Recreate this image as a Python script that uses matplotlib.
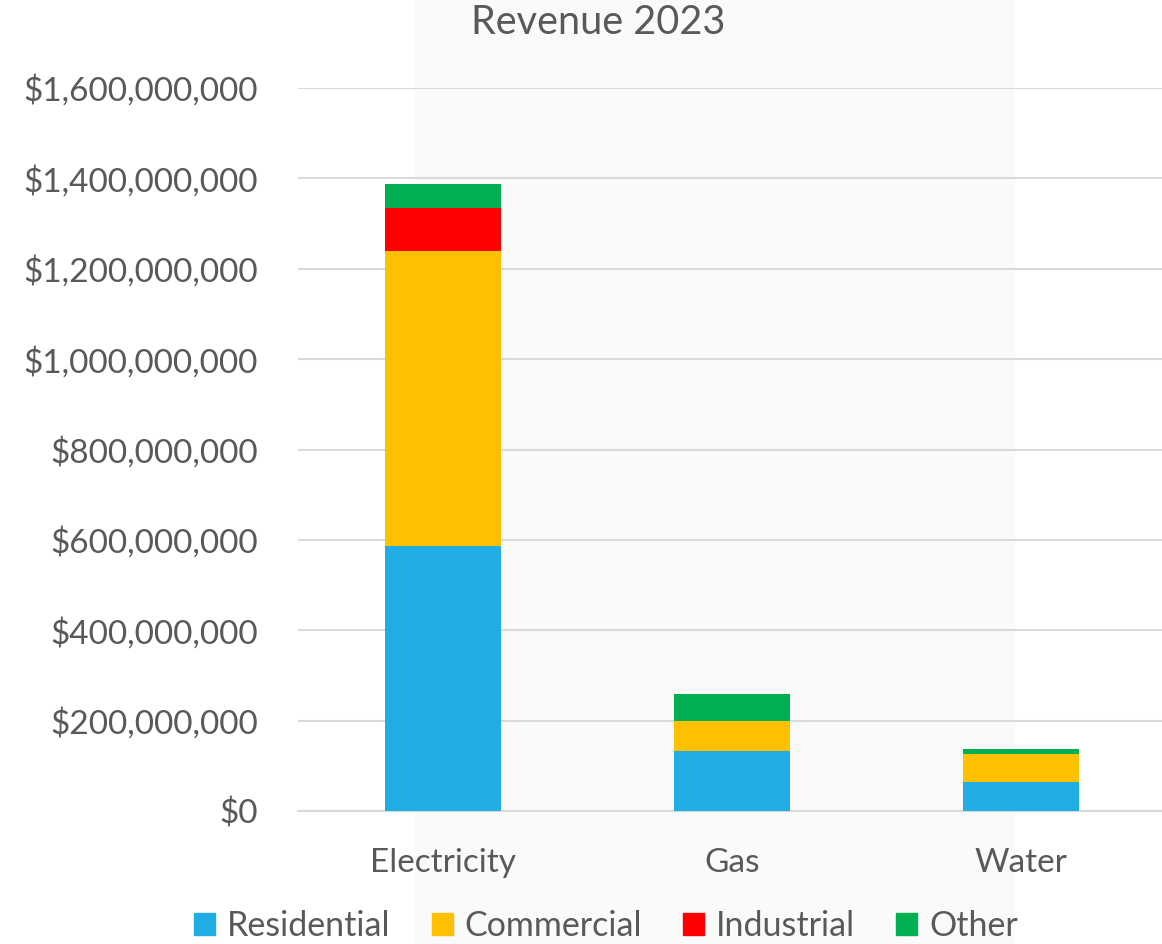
import matplotlib.pyplot as plt
import matplotlib.patches as mpatches
from matplotlib.ticker import FuncFormatter
import numpy as np

plt.rcParams['font.family'] = ['Lato', 'DejaVu Sans']

utilities = ["Electricity", "Gas", "Water"]
segments = ["Residential", "Commercial", "Industrial", "Other"]
residential = [587e6, 132e6, 65e6]
commercial = [653e6, 67e6, 62e6]
industrial = [95e6, 0, 0]
other = [52e6, 60e6, 11e6]
colors = ["#1FADE3", "#FFC000", "#FF0000", "#00B050"]

text_col = "#595959"
grid_col = "#d9d9d9"

fig = plt.figure(figsize=(11.62, 9.44), dpi=100)

# faint panel behind the middle of the chart
fig.patches.append(mpatches.Rectangle((415 / 1162, 0), 600 / 1162, 1,
                                      transform=fig.transFigure,
                                      facecolor="#fafafa", edgecolor="none", zorder=-10))

ax = fig.add_axes([298 / 1162, 1 - 811 / 944, 868 / 1162, (811 - 88) / 944])
ax.set_facecolor("none")

x = np.arange(len(utilities))
bottom = np.zeros(len(utilities))
for name, vals, c in zip(segments, [residential, commercial, industrial, other], colors):
    ax.bar(x, vals, 0.4, bottom=bottom, color=c, label=name, zorder=3)
    bottom += np.array(vals)

ax.set_xlim(-0.5, 2.5)
ax.set_ylim(0, 1.6e9)
ax.set_yticks(np.arange(0, 1.6e9 + 1, 2e8))
ax.yaxis.set_major_formatter(FuncFormatter(lambda v, p: "${:,.0f}".format(v)))
ax.set_xticks(x)
ax.set_xticklabels(utilities)
ax.grid(axis="y", color=grid_col, linewidth=1.5, zorder=0)
for s in ["top", "right", "left"]:
    ax.spines[s].set_visible(False)
ax.spines["bottom"].set_color(grid_col)
ax.spines["bottom"].set_linewidth(1.5)
ax.tick_params(axis="both", length=0, labelsize=24, colors=text_col)
ax.tick_params(axis="y", pad=29)
ax.tick_params(axis="x", pad=27)

fig.text(598 / 1162, 1 - 22 / 944, "Revenue 2023", ha="center", va="center",
         fontsize=28.5, color=text_col)

handles = [mpatches.Patch(color=c, label=n) for n, c in zip(segments, colors)]
fig.legend(handles=handles, loc="center", bbox_to_anchor=(606 / 1162, 1 - 926 / 944),
           ncol=4, frameon=False, fontsize=24.5, labelcolor=text_col,
           handlelength=0.62, handleheight=0.62, handletextpad=0.35, columnspacing=1.2)

fig.savefig("out.png", dpi=100)
